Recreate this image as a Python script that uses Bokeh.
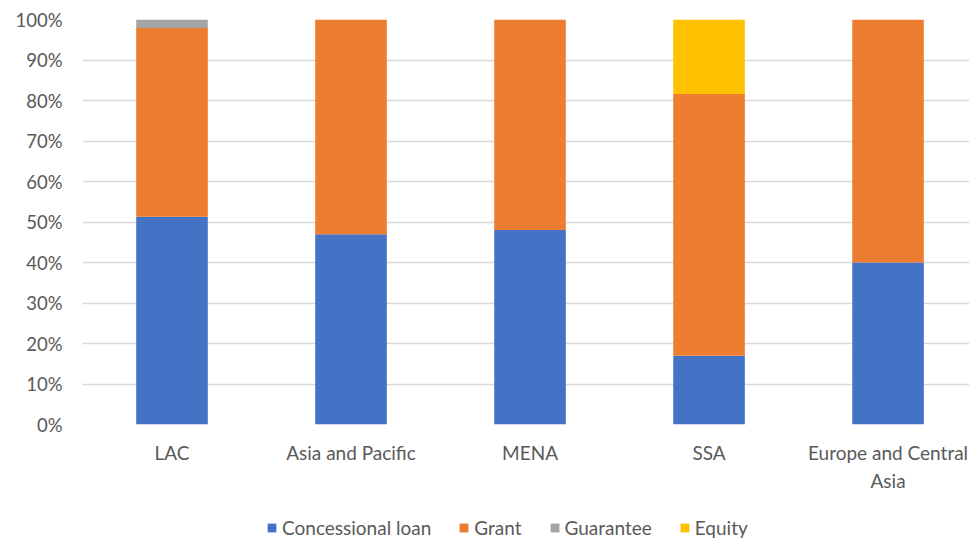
from bokeh.plotting import figure
from bokeh.layouts import column
from bokeh.models import Range1d, FixedTicker, NumeralTickFormatter, Legend, LegendItem, ColumnDataSource
from bokeh.embed import file_html
from bokeh.resources import INLINE

regions = ["LAC", "Asia and Pacific", "MENA", "SSA", "Europe and Central\nAsia"]
concessional = [0.513, 0.470, 0.480, 0.170, 0.400]
grant = [0.466, 0.530, 0.520, 0.646, 0.600]
guarantee = [0.021, 0.0, 0.0, 0.0, 0.0]
equity = [0.0, 0.0, 0.0, 0.184, 0.0]
series = ["Concessional loan", "Grant", "Guarantee", "Equity"]
colors = ["#4472C4", "#ED7D31", "#A5A5A5", "#FFC000"]
yticks = [0, 0.1, 0.2, 0.3, 0.4, 0.5, 0.6, 0.7, 0.8, 0.9, 1.0]

FONT = "Lato"
TXT = "#595959"

xs = list(range(len(regions)))
data = dict(x=xs, c=concessional, g=grant, gu=guarantee, e=equity)
src = ColumnDataSource(data)

p = figure(width=969, height=509, output_backend="svg", toolbar_location=None,
           x_range=Range1d(-0.5, 4.455), y_range=Range1d(0, 1),
           min_border_left=82, min_border_right=0, min_border_top=19, min_border_bottom=85)
p.outline_line_color = None
p.background_fill_color = "white"

renderers = p.vbar_stack(["c", "g", "gu", "e"], x="x", width=0.4, source=src,
                         color=colors, line_color=None)

p.xgrid.visible = False
p.ygrid.ticker = FixedTicker(ticks=yticks)
p.ygrid.grid_line_color = "#D9D9D9"
p.ygrid.grid_line_width = 1.5

p.yaxis.ticker = FixedTicker(ticks=yticks)
p.yaxis.formatter = NumeralTickFormatter(format="0%")
p.yaxis.axis_line_color = None
p.yaxis.major_tick_line_color = None
p.yaxis.minor_tick_line_color = None
p.yaxis.major_label_standoff = 14
p.yaxis.major_label_text_font = FONT
p.yaxis.major_label_text_font_size = "18.5px"
p.yaxis.major_label_text_color = TXT

p.xaxis.ticker = FixedTicker(ticks=xs)
p.xaxis.major_label_overrides = {i: r for i, r in enumerate(regions)}
p.xaxis.axis_line_color = None
p.xaxis.major_tick_line_color = None
p.xaxis.minor_tick_line_color = None
p.xaxis.major_label_standoff = 10
p.xaxis.major_label_text_font = FONT
p.xaxis.major_label_text_font_size = "19px"
p.xaxis.major_label_text_color = TXT
p.xaxis.major_label_text_line_height = 1.25

# legend strip: zero-height swatch renderers (invisible in the strip itself)
p2 = figure(width=969, height=30, output_backend="svg", toolbar_location=None,
            x_range=Range1d(0, 1), y_range=Range1d(0, 1),
            min_border_left=0, min_border_right=0, min_border_top=0, min_border_bottom=0)
p2.axis.visible = False
p2.grid.visible = False
p2.outline_line_color = None
swatch_src = ColumnDataSource(dict(x=[0.0], z=[0.0]))
dummies = [p2.vbar(x="x", top="z", bottom="z", width=0.0, source=swatch_src,
                   fill_color=c, line_color=None) for c in colors]

legend = Legend(items=[LegendItem(label=s, renderers=[r]) for s, r in zip(series, dummies)],
                orientation="horizontal", location=(184, 0))
legend.label_text_font = FONT
legend.label_text_font_size = "19px"
legend.label_text_color = TXT
legend.glyph_width = 11
legend.glyph_height = 11
legend.label_standoff = 5
legend.spacing = 27
legend.border_line_color = None
legend.background_fill_alpha = 0
legend.padding = 0
legend.margin = 0
p2.add_layout(legend)

layout = column(p, p2, spacing=0)
open("out.html", "w").write(file_html(layout, INLINE))
